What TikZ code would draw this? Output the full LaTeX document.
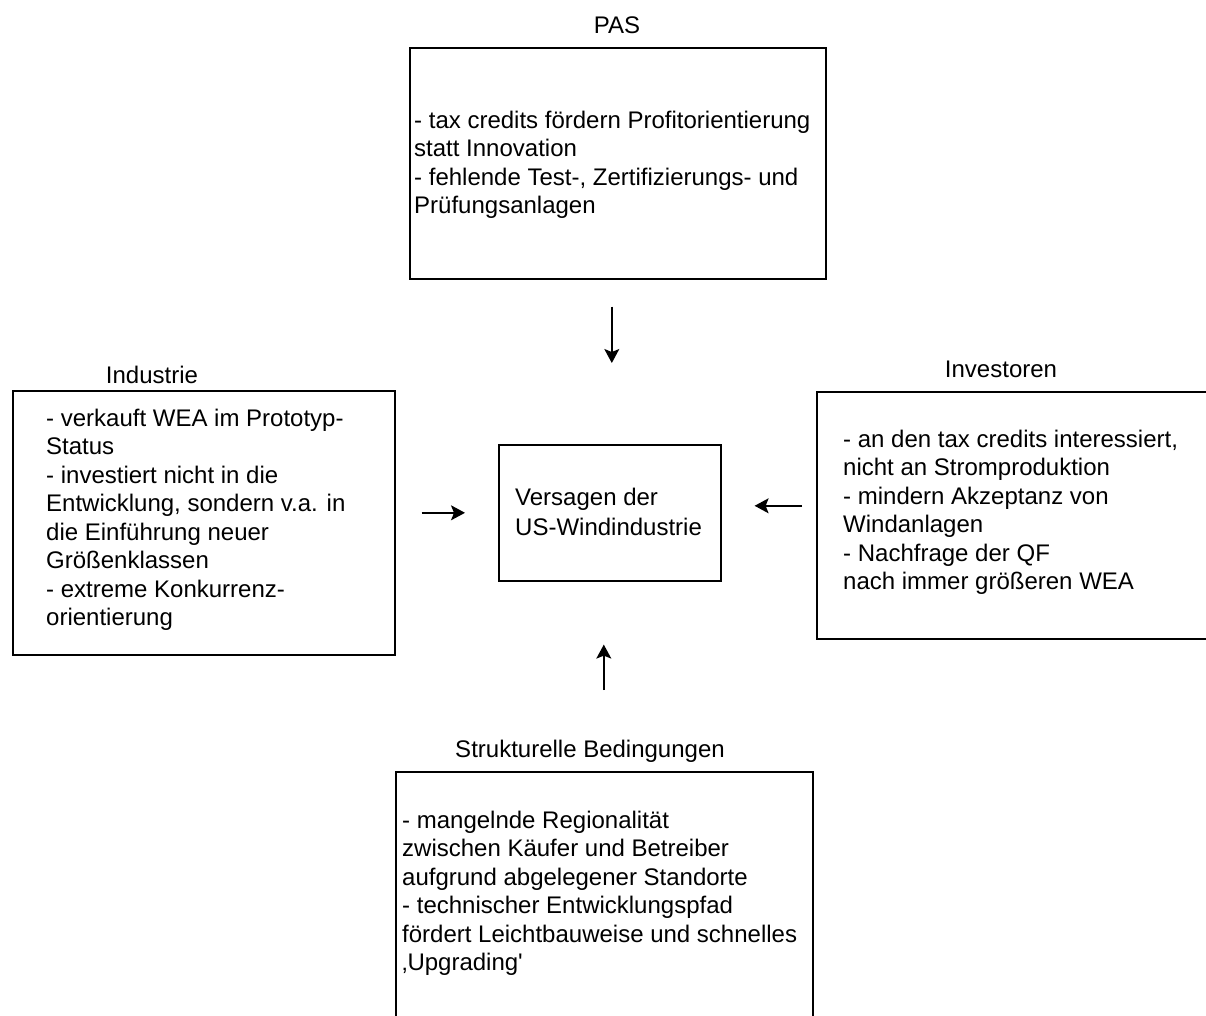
\documentclass[tikz,border=0pt]{standalone}
\usepackage{fontspec}
\setmainfont{Liberation Sans}
\usetikzlibrary{arrows.meta}
\tikzset{
  box/.style={draw, line width=1.6pt, inner sep=0pt, anchor=north west},
  txt/.style={inner sep=0pt, anchor=base west, font=\fontsize{24}{28.5}\selectfont},
  lbl/.style={inner sep=0pt, anchor=base, font=\fontsize{24}{28.5}\selectfont},
  arr/.style={line width=1.4pt, -{Stealth[length=14pt,width=15pt,inset=3pt]}}
}
\begin{document}
\begin{tikzpicture}[x=1pt,y=-1pt]
\useasboundingbox (0,0) rectangle (1206,1015);
% boxes
\node[box, minimum width=416pt, minimum height=231pt] (pas) at (409,47) {};
\node[box, minimum width=382pt, minimum height=264pt] (ind) at (12,390) {};
\node[box, minimum width=400pt, minimum height=247pt] (inv) at (816,391) {};
\node[box, minimum width=222pt, minimum height=136pt] (center) at (498,444) {};
\node[box, minimum width=417pt, minimum height=250pt] (str) at (395,771) {};
% labels
\node[lbl] (paslbl) at (617,33) {PAS};
\node[lbl] (indlbl) at (152,383) {Industrie};
\node[lbl] (invlbl) at (1001,377) {Investoren};
\node[lbl] (strlbl) at (590,757) {Strukturelle Bedingungen};
% texts
\node[txt] (pastxt) at (414,128) {\begin{tabular}[t]{@{}l@{}}
- tax credits fördern Profitorientierung\\
statt Innovation\\
- fehlende Test-, Zertifizierungs- und\\
Prüfungsanlagen\end{tabular}};
\node[txt] (indtxt) at (46,426) {\begin{tabular}[t]{@{}l@{}}
- verkauft WEA im Prototyp-\\
Status\\
- investiert nicht in die\\
Entwicklung, sondern v.a. in\\
die Einführung neuer\\
Größenklassen\\
- extreme Konkurrenz-\\
orientierung\end{tabular}};
\node[txt] (invtxt) at (843,447) {\begin{tabular}[t]{@{}l@{}}
- an den tax credits interessiert,\\
nicht an Stromproduktion\\
- mindern Akzeptanz von\\
Windanlagen\\
- Nachfrage der QF\\
nach immer größeren WEA\end{tabular}};
\node[txt] (centertxt) at (515,505) {\begin{tabular}[t]{@{}l@{}}
Versagen der\\[1.5pt]
US-Windindustrie\end{tabular}};
\node[txt] (strtxt) at (402,828) {\begin{tabular}[t]{@{}l@{}}
- mangelnde Regionalität\\
zwischen Käufer und Betreiber\\
aufgrund abgelegener Standorte\\
- technischer Entwicklungspfad\\
fördert Leichtbauweise und schnelles\\
‚Upgrading\textquotesingle\end{tabular}};
% arrows
\draw[arr] ([xshift=-6pt,yshift=-27pt]pas.south) -- ([xshift=2pt,yshift=81pt]center.north);
\draw[arr] ([xshift=26pt,yshift=10pt]ind.east) -- ([xshift=-33pt]center.west);
\draw[arr] ([xshift=-14pt,yshift=9.5pt]inv.west) -- ([xshift=33pt,yshift=7pt]center.east);
\draw[arr] ([xshift=-0.5pt,yshift=81pt]str.north) -- ([xshift=-6pt,yshift=-63pt]center.south);
\end{tikzpicture}
\end{document}
